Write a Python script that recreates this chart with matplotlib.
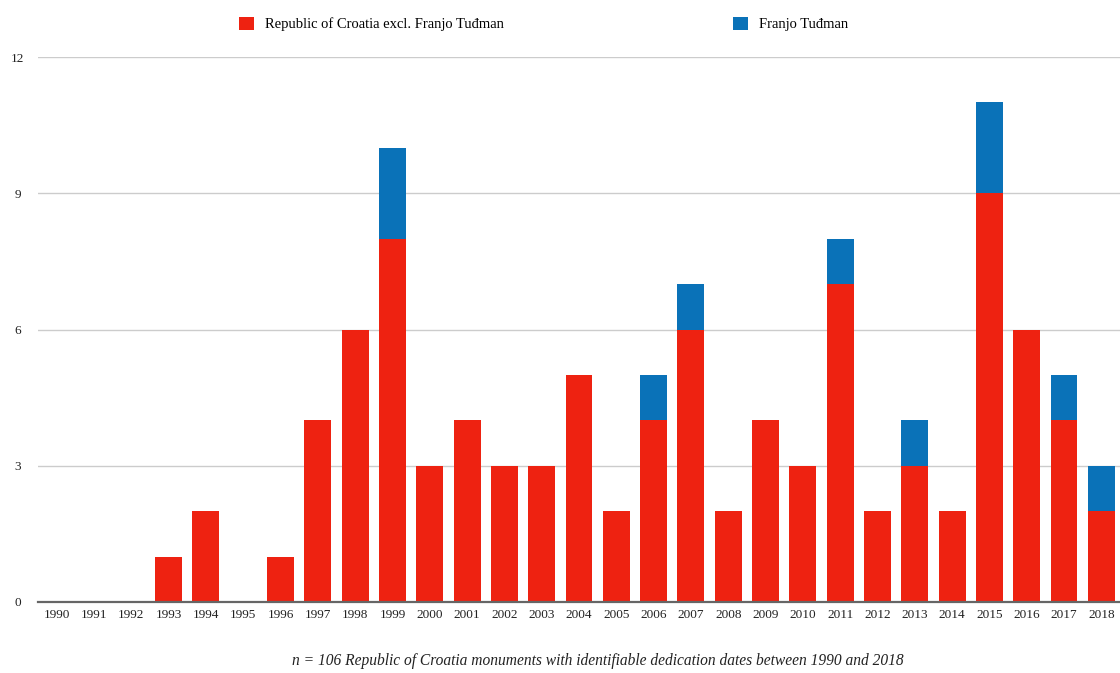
import numpy as np
import matplotlib.pyplot as plt

# dedication counts per year
years = list(range(1990, 2019))
croatia = [0, 0, 0, 1, 2, 0, 1, 4, 6, 8, 3, 4, 3, 3, 5, 2, 4, 6, 2, 4, 3, 7, 2, 3, 2, 9, 6, 4, 2]
tudman = [0, 0, 0, 0, 0, 0, 0, 0, 0, 2, 0, 0, 0, 0, 0, 0, 1, 1, 0, 0, 0, 1, 0, 1, 0, 2, 0, 1, 1]
yticks = [0, 3, 6, 9, 12]

red = '#EE2211'
blue = '#0A72B8'

plt.rcParams['font.family'] = ['Liberation Serif', 'DejaVu Serif']

fig = plt.figure(figsize=(11.2, 6.73), dpi=100)
ax = fig.add_axes([38/1120, 71/673, 1 - 38/1120, (602 - 57)/673])

x = np.arange(len(years))
b1 = ax.bar(x, croatia, width=0.72, color=red, zorder=3,
            label='Republic of Croatia excl. Franjo Tuđman')
b2 = ax.bar(x, tudman, width=0.72, bottom=croatia, color=blue, zorder=3,
            label='Franjo Tuđman')

ax.set_xlim(-0.5, len(years) - 0.5)
ax.set_ylim(0, 12)
ax.set_yticks(yticks)
ax.set_xticks(x)
ax.set_xticklabels([str(y) for y in years])
ax.tick_params(axis='both', length=0, labelsize=9.5, colors='#222222')
ax.tick_params(axis='y', pad=14.5)
ax.tick_params(axis='x', pad=5)
for lbl in ax.get_yticklabels():
    lbl.set_horizontalalignment('center')
ax.grid(axis='y', color='#cccccc', linewidth=1, zorder=0)
for s in ['top', 'right', 'left']:
    ax.spines[s].set_visible(False)
ax.spines['bottom'].set_color('#666666')
ax.spines['bottom'].set_linewidth(1.6)
ax.spines['bottom'].set_zorder(4)

fig.legend(handles=[b1, b2], loc='center', bbox_to_anchor=(0.4855, 0.964), ncol=2,
           frameon=False, fontsize=10.5, handlelength=1.0, handleheight=1.0,
           handletextpad=0.8, columnspacing=15.7)

fig.text(0.534, 0.006, 'n = 106 Republic of Croatia monuments with identifiable dedication dates between 1990 and 2018',
         ha='center', va='bottom', style='italic', fontsize=11.2, color='#222222')

fig.savefig('out.png', dpi=100)
